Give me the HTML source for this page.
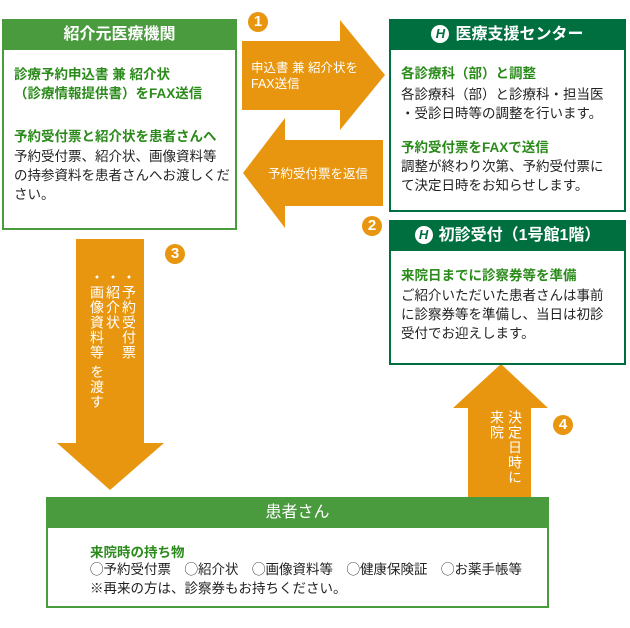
<!DOCTYPE html>
<html><head><meta charset="utf-8"><style>
body{margin:0;width:630px;height:628px;background:#fff;position:relative;font-family:"Liberation Sans","Noto Sans CJK JP",sans-serif;overflow:hidden}
.box{position:absolute;background:#fff;box-sizing:border-box}
.hd{color:#fff;font-weight:bold;font-size:16px;text-align:center;height:31px;line-height:31px}
.g{color:#2a8a1a;font-weight:bold;font-size:13.5px;white-space:nowrap}
.t{color:#222;font-size:13.5px;line-height:19px;white-space:nowrap}
.abs{position:absolute}
.c{position:absolute;width:20px;height:20px;border-radius:50%;background:#e8960f;color:#fff;font-weight:bold;font-size:15px;text-align:center;line-height:20px}
.at{position:absolute;color:#fff;font-size:12.5px;line-height:16px}
.v{writing-mode:vertical-rl;color:#fff;font-size:14px;line-height:17px;position:absolute;letter-spacing:1px}
.logo{display:inline-block;width:18px;height:18px;border-radius:50%;background:#fff;color:#006f3f;font-size:13px;line-height:18px;font-style:italic;vertical-align:1px;margin-right:6px}
</style></head><body>
<svg class="abs" style="left:0;top:0" width="630" height="628">
<g fill="#e8960f">
<polygon points="242,41 340,41 340,20 385,75 340,130 340,110 242,110"/>
<polygon points="383,140 285,140 285,118 243,173 285,228 285,206 383,206"/>
<polygon points="76,239 144,239 144,443 164,443 110,490 57,443 76,443"/>
<polygon points="468,497 531,497 531,408 548,408 501,364 453,408 468,408"/>
</g></svg>
<div class="c" style="left:248px;top:12px">1</div>
<div class="c" style="left:362px;top:216px">2</div>
<div class="c" style="left:165px;top:244px">3</div>
<div class="c" style="left:553px;top:415px">4</div>
<div class="at" style="left:251px;top:60px">申込書 兼 紹介状を<br>FAX送信</div>
<div class="at" style="left:268px;top:166px">予約受付票を返信</div>
<div class="v" style="left:88px;top:270px">・画像資料等 を渡す</div>
<div class="v" style="left:104px;top:270px">・紹介状</div>
<div class="v" style="left:120px;top:270px">・予約受付票</div>
<div class="v" style="left:488px;top:410px">来院</div>
<div class="v" style="left:506px;top:410px">決定日時に</div>

<div class="box" style="left:2px;top:19px;width:235px;height:211px;border:2px solid #4a9a3e;border-top:0">
<div class="hd" style="background:#4a9a3e;margin:0 -2px">紹介元医療機関</div>
<div class="g" style="position:absolute;left:10px;top:46px;line-height:19px">診療予約申込書 兼 紹介状<br>（診療情報提供書）をFAX送信</div>
<div class="g" style="position:absolute;left:10px;top:106px">予約受付票と紹介状を患者さんへ</div>
<div class="t" style="position:absolute;left:10px;top:128px">予約受付票、紹介状、画像資料等<br>の持参資料を患者さんへお渡しくだ<br>さい。</div>
</div>

<div class="box" style="left:389px;top:19px;width:237px;height:193px;border:2px solid #006f3f;border-top:0">
<div class="hd" style="background:#006f3f;margin:0 -2px"><span class="logo">H</span>医療支援センター</div>
<div class="g" style="position:absolute;left:10px;top:43px">各診療科（部）と調整</div>
<div class="t" style="position:absolute;left:10px;top:66px">各診療科（部）と診療科・担当医<br>・受診日時等の調整を行います。</div>
<div class="g" style="position:absolute;left:10px;top:117px">予約受付票をFAXで送信</div>
<div class="t" style="position:absolute;left:10px;top:138px">調整が終わり次第、予約受付票に<br>て決定日時をお知らせします。</div>
</div>

<div class="box" style="left:389px;top:220px;width:237px;height:145px;border:2px solid #006f3f;border-top:0">
<div class="hd" style="background:#006f3f;margin:0 -2px"><span class="logo">H</span>初診受付（1号館1階）</div>
<div class="g" style="position:absolute;left:10px;top:44px">来院日までに診察券等を準備</div>
<div class="t" style="position:absolute;left:10px;top:66px">ご紹介いただいた患者さんは事前<br>に診察券等を準備し、当日は初診<br>受付でお迎えします。</div>
</div>

<div class="box" style="left:46px;top:497px;width:503px;height:111px;border:2px solid #4a9a3e;border-top:0">
<div class="hd" style="background:#4a9a3e;margin:0 -2px;font-weight:normal">患者さん</div>
<div class="g" style="position:absolute;left:42px;top:44px">来院時の持ち物</div>
<div class="t" style="position:absolute;left:42px;top:63px">◯予約受付票　◯紹介状　◯画像資料等　◯健康保険証　◯お薬手帳等<br>※再来の方は、診察券もお持ちください。</div>
</div>
</body></html>
